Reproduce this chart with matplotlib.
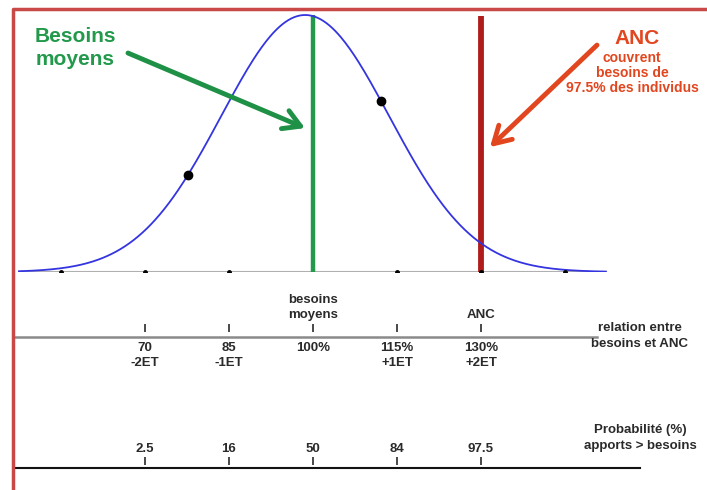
import numpy as np
import matplotlib
matplotlib.use("Agg")
import matplotlib.pyplot as plt
from matplotlib.lines import Line2D

# ===================================================
# Data
# ===================================================

CURVE_CENTER = 98.6      # % of average requirement (peak of the drawn curve)
CURVE_SD = 15.0          # one "ET" (écart-type) in %
CURVE_RANGE = (47.5, 152.3)

MEAN_NEED = 100          # besoins moyens
ANC = 130                # apports nutritionnels conseillés

sd_marks = [55, 70, 85, 115, 130, 145]
curve_dots = [77.7, 112.1]

scale_pos = [70, 85, 100, 115, 130]
scale_labels = ["70\n-2ET", "85\n-1ET", "100%", "115%\n+1ET", "130%\n+2ET"]
top_labels = {100: "besoins\nmoyens", 130: "ANC"}
prob_labels = ["2.5", "16", "50", "84", "97.5"]

# ===================================================
# Layout helpers (reference is 707 x 490 px)
# ===================================================

W, H = 707, 490
PX_PER_PCT = 5.6
X0 = 313  # pixel column of 100 %


def px2pct(px):
    return 100 + (px - X0) / PX_PER_PCT


XL = (px2pct(0), px2pct(W))

BASE_Y = 272
TOP_Y = 9
PEAK_PX = 257

GREEN = "#23994c"
BLUE = "#3434e0"
DARKRED = "#b01c1c"
ORANGE = "#e2461f"
TXT = "#2a2a2a"

plt.rcParams["font.family"] = ["Liberation Sans", "DejaVu Sans"]

fig = plt.figure(figsize=(W / 100, H / 100), dpi=100)
fig.patch.set_facecolor("white")

ax_low = fig.add_axes([0, 0, 1, 1])
ax_low.set_xlim(XL)
ax_low.set_ylim(H, 0)
ax_low.axis("off")

ax = fig.add_axes([0, (H - BASE_Y) / H, 1, (BASE_Y - TOP_Y) / H])
ax.set_xlim(XL)
ax.set_ylim(0, (BASE_Y - TOP_Y) / PEAK_PX)
ax.axis("off")
ax.patch.set_visible(False)

# ===================================================
# Curve
# ===================================================

def density(v):
    z = (np.asarray(v, dtype=float) - CURVE_CENTER) / CURVE_SD
    return np.exp(-0.5 * z ** 2)


x = np.linspace(CURVE_RANGE[0], CURVE_RANGE[1], 400)
ax.plot(CURVE_RANGE, [0, 0], color="#b0b0b0", lw=1.5, zorder=1)
ax.plot(x, density(x), color=BLUE, lw=1.3, zorder=3)
ax.plot(sd_marks, np.zeros(len(sd_marks)), "o", color="black", ms=2.5, zorder=4)
ax.plot(curve_dots, density(curve_dots), "o", color="black", ms=6, zorder=5)

ax.vlines(MEAN_NEED, 0, 1.0, color=GREEN, lw=3.2, zorder=2)
ax.vlines(ANC, -0.012, 0.995, color=DARKRED, lw=4.2, zorder=2)

# arrows and labels
arrow_style = "->,head_length=1.2,head_width=0.7"
ax.annotate("", xy=(px2pct(305), 0.56), xytext=(px2pct(128), 0.852),
            arrowprops=dict(arrowstyle=arrow_style, lw=3.5, color="#1f9146",
                            shrinkA=0, shrinkB=0))
ax.text(px2pct(75), (BASE_Y - 48) / PEAK_PX, "Besoins\nmoyens", color=GREEN,
        fontsize=15, fontweight="bold", ha="center", va="center", linespacing=1.25)

ax.annotate("", xy=(px2pct(490), 0.486), xytext=(px2pct(597), 0.883),
            arrowprops=dict(arrowstyle=arrow_style, lw=3.5, color=ORANGE,
                            shrinkA=0, shrinkB=0))
ax.text(px2pct(637), (BASE_Y - 38) / PEAK_PX, "ANC", color=ORANGE,
        fontsize=15, fontweight="bold", ha="center", va="center")
ax.text(px2pct(632), (BASE_Y - 73) / PEAK_PX,
        "couvrent\nbesoins de\n97.5% des individus", color=ORANGE,
        fontsize=10, fontweight="bold", ha="center", va="center", linespacing=1.1)

# ===================================================
# Scales below
# ===================================================

ax_low.plot([px2pct(14), px2pct(597)], [337, 337], color="#8a8a8a", lw=1.8)
ax_low.vlines(scale_pos, 324, 332, color=TXT, lw=1.2)
for pos, lab in zip(scale_pos, scale_labels):
    ax_low.text(pos, 342, lab, ha="center", va="top", fontsize=9.5,
                fontweight="bold", color=TXT, linespacing=1.3)
for pos, lab in top_labels.items():
    ax_low.text(pos, 321, lab, ha="center", va="bottom", fontsize=9.5,
                fontweight="bold", color=TXT, linespacing=1.3)
ax_low.text(px2pct(640), 336, "relation entre\nbesoins et ANC", ha="center",
            va="center", fontsize=9.5, fontweight="bold", color=TXT, linespacing=1.35)

ax_low.plot([px2pct(14), px2pct(640)], [468, 468], color="#111111", lw=1.5)
ax_low.vlines(scale_pos, 457, 465, color=TXT, lw=1.2)
for pos, lab in zip(scale_pos, prob_labels):
    ax_low.text(pos, 455, lab, ha="center", va="bottom", fontsize=9.5,
                fontweight="bold", color=TXT)
ax_low.text(px2pct(640), 438, "Probabilité (%)\napports > besoins", ha="center",
            va="center", fontsize=9.5, fontweight="bold", color=TXT, linespacing=1.35)

# frame (left and top edges of the original picture)
fig.add_artist(Line2D([13 / W, 13 / W, 1.0], [0.0, 1 - 9 / H, 1 - 9 / H],
                      transform=fig.transFigure, color="#c94848", lw=2.5))

fig.savefig("out.png", dpi=100)
